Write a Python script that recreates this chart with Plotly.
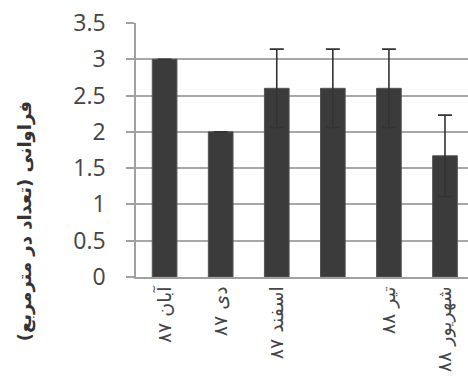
import plotly.graph_objects as go

categories = ["آبان ۸۷", "دی ۸۷", "اسفند ۸۷", " ", "تیر ۸۸", "شهریور ۸۸"]
values = [3.0, 2.0, 2.6, 2.6, 2.6, 1.67]
errors = [0, 0, 0.54, 0.54, 0.54, 0.56]
y_title = "فراوانی (تعداد در مترمربع)"
y_ticks = [0, 0.5, 1, 1.5, 2, 2.5, 3, 3.5]

x_pos = list(range(len(categories)))

fig = go.Figure(go.Bar(
    x=x_pos, y=values, width=0.44,
    marker=dict(color="#3b3b3b", line=dict(color="#555555", width=1)),
    error_y=dict(type="data", array=errors, visible=True, color="#333333",
                 thickness=1.6, width=7),
))

fig.update_layout(
    width=468, height=380,
    margin=dict(l=136, r=0, t=23, b=103),
    paper_bgcolor="white", plot_bgcolor="white",
    showlegend=False,
    font=dict(family="DejaVu Sans", color="#333333"),
)
fig.update_xaxes(
    range=[-0.51, 5.41], tickmode="array", tickvals=x_pos, ticktext=categories,
    tickangle=-90, tickfont=dict(size=19, family="DejaVu Sans", color="#444444"),
    showgrid=False, showline=True, linecolor="#a0a0a0", linewidth=1.5,
    ticks="", zeroline=False, automargin=False, ticklabeloverflow="allow",
)
fig.update_yaxes(
    range=[0, 3.5], tickvals=y_ticks, ticktext=[str(v) for v in y_ticks],
    tickfont=dict(size=23, family="Open Sans", color="#444444"),
    showgrid=True, gridcolor="#a8a8a8", gridwidth=1.5,
    showline=True, linecolor="#a0a0a0", linewidth=1.5,
    ticks="outside", ticklen=8, tickcolor="#a0a0a0", tickwidth=1.5,
    ticklabelstandoff=16, zeroline=False, automargin=False,
    ticklabeloverflow="allow",
)
fig.add_annotation(
    text="<b>" + y_title + "</b>", textangle=-90,
    xref="paper", yref="paper", x=-0.334, y=0.22,
    xanchor="center", yanchor="middle", showarrow=False,
    font=dict(size=18, family="DejaVu Sans", color="#333333"),
)

fig.write_html("out.html", config={"displayModeBar": False},
               post_script="document.body.style.margin='0';")
